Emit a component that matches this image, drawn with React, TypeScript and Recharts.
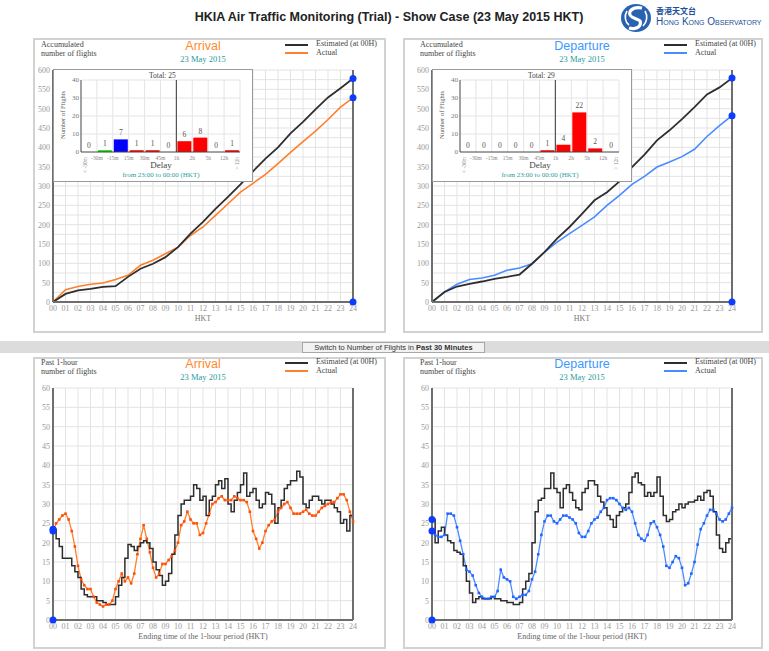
import React from 'react';
import {
  LineChart,
  ComposedChart,
  Line,
  XAxis,
  YAxis,
  CartesianGrid,
  ReferenceDot,
  ReferenceLine,
  Bar,
  Cell,
  LabelList,
} from 'recharts';

// ---- axis ticks / labels ----
const HOUR_TICKS = [0, 1, 2, 3, 4, 5, 6, 7, 8, 9, 10, 11, 12, 13, 14, 15, 16, 17, 18, 19, 20, 21, 22, 23, 24];
const HOUR_LABELS = ['00', '01', '02', '03', '04', '05', '06', '07', '08', '09', '10', '11', '12', '13', '14', '15', '16', '17', '18', '19', '20', '21', '22', '23', '24'];
const ACC_TICKS = [0, 50, 100, 150, 200, 250, 300, 350, 400, 450, 500, 550, 600];
const ACC_GRID = [0, 25, 50, 75, 100, 125, 150, 175, 200, 225, 250, 275, 300, 325, 350, 375, 400, 425, 450, 475, 500, 525, 550, 575, 600];
const HOURLY_TICKS = [0, 5, 10, 15, 20, 25, 30, 35, 40, 45, 50, 55, 60];

// ---- accumulated number of flights, sampled each hour 00..24 ----
const arrivalEstCum = [0, 21, 30, 34, 39, 41, 65, 86, 99, 116, 142, 177, 207, 241, 272, 304, 338, 371, 400, 436, 466, 498, 529, 553, 578];
const arrivalActCum = [0, 32, 40, 46, 49, 58, 69, 95, 108, 125, 142, 172, 194, 224, 254, 284, 307, 330, 358, 387, 415, 442, 472, 504, 528];
const departureEstCum = [0, 26, 40, 47, 53, 60, 65, 71, 99, 129, 164, 194, 228, 263, 284, 312, 349, 381, 418, 444, 473, 504, 537, 555, 579];
const departureActCum = [0, 26, 46, 58, 62, 69, 82, 88, 99, 129, 155, 177, 198, 220, 250, 276, 304, 325, 349, 362, 376, 395, 428, 456, 482];

// ---- past 1-hour number of flights, every 15 minutes 00:00..24:00 ----
const QUARTER_HOURS = Array.from({ length: 97 }, (_, i) => i / 4);
const arrivalEst1h = [
  23.5, 21, 19, 16, 16, 16, 14, 12.5, 11, 8, 6.5, 6, 6, 6, 5, 5,
  4.5, 4, 4, 4, 6, 9, 11, 16, 19.5, 19, 18, 19, 20, 20.5, 20, 18.5,
  15, 13, 11.5, 9, 10, 12, 17, 22, 27, 30, 31, 31, 32, 35, 34, 31,
  32, 27, 31, 32, 35, 36, 34, 36.5, 30, 28, 31, 33, 35, 38, 32, 33,
  34, 31, 29, 30, 33, 32.5, 30, 25, 29, 31, 34, 35, 36, 36, 38.5, 37,
  30, 29, 31, 32, 32, 31, 30, 31, 31, 30, 29, 28, 25, 26, 23, 27,
  28,
];
const arrivalAct1h = [
  23, 25, 26, 27, 27.5, 26, 23, 19, 14, 10.5, 9, 8, 8, 6, 4.5, 4,
  3.5, 4, 4, 5, 8, 10, 12, 10, 11, 9.5, 12, 17, 21, 24.5, 21, 17.5,
  13.5, 11, 12, 14.5, 14.5, 15.5, 16.5, 18, 20, 24.5, 25.5, 28, 26, 25, 25, 22,
  22.5, 25, 27.5, 30, 30.5, 31.5, 32, 31, 31, 31, 32, 31.5, 31, 31, 30.5, 28,
  23, 21, 18.5, 20, 23, 24.5, 25.5, 26, 28, 29, 30, 30.5, 29, 27.5, 27.5, 27.5,
  28, 28.5, 27.5, 27, 27, 28, 29, 29.5, 30, 30.5, 30.5, 31.5, 32.5, 32.5, 31, 28,
  25.5,
];
const departureEst1h = [
  26, 20, 23, 24, 22, 20.5, 20, 18, 17.5, 17, 14, 10, 7, 4.5, 5.5, 6,
  5.5, 5.5, 5.5, 6, 5.5, 5.5, 5, 5, 4.5, 4.5, 4, 4, 4.5, 8, 10, 12,
  20, 28, 31, 31.5, 34, 34, 38, 34, 33, 29, 34, 35, 33, 31, 29, 28.5,
  33, 34, 36, 36, 35, 32, 30.5, 29, 27, 26, 24, 27, 28, 29, 30, 33,
  37, 38, 35.5, 35, 32, 33, 32, 33, 37, 32, 27, 25.5, 26, 28, 28.5, 30,
  29, 30, 30.5, 30.5, 31, 32, 31, 33, 33.5, 32, 28, 22, 18.5, 17.5, 20, 21,
  25.5,
];
const departureAct1h = [
  23, 22, 21.5, 21.5, 22, 27.5, 27.5, 27, 24, 20.5, 17, 13, 12.5, 11.5, 9, 7,
  6, 5.5, 5.5, 6, 6, 7.5, 13, 11, 10.5, 10, 6, 5.5, 6, 6.5, 6.5, 7.5,
  10.5, 12.5, 17, 22, 25.5, 27, 27, 25.5, 25, 26, 27, 27, 26.5, 26, 25, 22.5,
  21.5, 21.5, 23, 25, 26, 26.5, 28, 29, 31, 31.5, 31.5, 31, 30, 29, 28.5, 29,
  28, 25, 22, 21, 20.5, 22, 25, 25.5, 24, 22, 19, 14, 13.5, 15, 16.5, 16,
  13.5, 9, 9.5, 12, 15, 19.5, 23.5, 25, 27, 28.5, 28.5, 27.5, 26, 25.5, 26, 27.5,
  29,
];

// ---- delay distribution (23:00 to 00:00) ----
const DELAY_TICKS = [0, 1, 2, 3, 4, 5, 6, 7, 8, 9, 10];
const DELAY_LABELS = ['< -30m', '-30m', '-15m', '15m', '30m', '45m', '1h', '2h', '5h', '12h', '> 12h'];
const DELAY_COLORS = ['#00dd00', '#00dd00', '#0000ff', '#ff0000', '#ff0000', '#ff0000', '#ff0000', '#ff0000', '#ff0000', '#ff0000'];
const arrivalDelay = [0, 1, 7, 1, 1, 0, 6, 8, 0, 1];
const departureDelay = [0, 0, 0, 0, 0, 1, 4, 22, 2, 0];

const EST_COLOR = '#2e2e2e';
const ORANGE = '#ff7f2a';
const ORANGE_DOT = '#ff4f0a';
const BLUE = '#4a8cff';
const BLUE_DOT = '#2266ff';
const MARK = '#0b3cff';
const TEAL = '#2a9a9a';
const FRAME = { stroke: '#6e6e6e', strokeWidth: 2 };
const SERIF = '"Liberation Serif", "DejaVu Serif", serif';
const SANS = '"Liberation Sans", Arial, sans-serif';

type TxtProps = {
  x: number;
  y: number;
  size: number;
  color?: string;
  anchor?: 'start' | 'middle';
  family?: string;
  bold?: boolean;
  children: React.ReactNode;
};

const Txt = ({ x, y, size, color = '#444', anchor = 'start', family = SERIF, bold, children }: TxtProps) => (
  <div
    style={{
      position: 'absolute',
      left: x,
      top: y - size / 2,
      lineHeight: `${size}px`,
      fontSize: size,
      color,
      fontFamily: family,
      fontWeight: bold ? 'bold' : 'normal',
      whiteSpace: 'nowrap',
      transform: anchor === 'middle' ? 'translateX(-50%)' : undefined,
    }}
  >
    {children}
  </div>
);

const Panel = ({ left, top, width, height }: { left: number; top: number; width: number; height: number }) => (
  <div
    style={{
      position: 'absolute',
      left,
      top,
      width,
      height,
      border: '2px solid #d2d2d2',
      boxSizing: 'border-box',
    }}
  />
);

type HeaderProps = {
  plotLeft: number;
  plotTop: number;
  line1: string;
  line2: string;
  title: string;
  titleColor: string;
  actualColor: string;
};

const Header = ({ plotLeft, plotTop, line1, line2, title, titleColor, actualColor }: HeaderProps) => (
  <>
    <Txt x={plotLeft - 12} y={plotTop - 25.5} size={8}>{line1}</Txt>
    <Txt x={plotLeft - 12} y={plotTop - 16} size={8}>{line2}</Txt>
    <Txt x={plotLeft + 150} y={plotTop - 24} size={12.5} color={titleColor} family={SANS} anchor="middle">{title}</Txt>
    <Txt x={plotLeft + 150} y={plotTop - 10.5} size={8.5} color={TEAL} anchor="middle">23 May 2015</Txt>
    <div style={{ position: 'absolute', left: plotLeft + 232, top: plotTop - 26.5, width: 23, height: 2, background: EST_COLOR }} />
    <div style={{ position: 'absolute', left: plotLeft + 232, top: plotTop - 18.5, width: 23, height: 2, background: actualColor }} />
    <Txt x={plotLeft + 263} y={plotTop - 26} size={8}>Estimated (at 00H)</Txt>
    <Txt x={plotLeft + 263} y={plotTop - 17.5} size={8}>Actual</Txt>
  </>
);

type ChartProps = {
  left: number;
  top: number;
  est: number[];
  act: number[];
  color: string;
  dotColor?: string;
};

const tickStyle = { fontSize: 8, fill: '#999', fontFamily: SERIF };

const AccumChart = ({ left, top, est, act, color }: ChartProps) => {
  const data = HOUR_TICKS.map((t, i) => ({ t, est: est[i], act: act[i] }));
  return (
    <div style={{ position: 'absolute', left, top }}>
      <LineChart width={362} height={272} data={data} margin={{ top: 10, right: 0, bottom: 0, left: 0 }}>
        <CartesianGrid yAxisId="l" stroke="#e3e3e3" horizontalValues={ACC_GRID} verticalValues={HOUR_TICKS} />
        <XAxis
          dataKey="t"
          type="number"
          domain={[0, 24]}
          ticks={HOUR_TICKS}
          interval={0}
          tickFormatter={(v: number) => HOUR_LABELS[v]}
          tick={tickStyle}
          tickLine={false}
          tickSize={0}
          tickMargin={3}
          axisLine={FRAME}
          height={30}
          label={{ value: 'HKT', position: 'insideBottom', offset: 11, fontSize: 8, fill: '#777' }}
        />
        <XAxis xAxisId="top" orientation="top" type="number" domain={[0, 24]} tick={false} tickLine={false} height={0} axisLine={FRAME} />
        <YAxis yAxisId="l" orientation="left" width={31} domain={[0, 600]} ticks={ACC_TICKS} interval={0} tick={tickStyle} tickLine={false} tickSize={0} tickMargin={3} axisLine={FRAME} />
        <YAxis yAxisId="r" orientation="right" width={31} domain={[0, 600]} ticks={ACC_TICKS} interval={0} tick={tickStyle} tickLine={false} tickSize={0} tickMargin={4} axisLine={FRAME} />
        <Line yAxisId="l" type="linear" dataKey="act" stroke={color} strokeWidth={1.6} dot={false} isAnimationActive={false} />
        <Line yAxisId="l" type="linear" dataKey="est" stroke={EST_COLOR} strokeWidth={1.8} dot={false} isAnimationActive={false} />
        <ReferenceDot yAxisId="l" x={24} y={est[24]} r={3.5} fill={MARK} stroke="none" />
        <ReferenceDot yAxisId="l" x={24} y={act[24]} r={3.5} fill={MARK} stroke="none" />
        <ReferenceDot yAxisId="l" x={24} y={0} r={3.5} fill={MARK} stroke="none" />
      </LineChart>
    </div>
  );
};

const HourlyChart = ({ left, top, est, act, color, dotColor }: ChartProps) => {
  const data = QUARTER_HOURS.map((t, i) => ({ t, est: est[i], act: act[i] }));
  const squareDot = (p: any) => (
    <rect key={`d${p.index}`} x={p.cx - 1.3} y={p.cy - 1.3} width={2.6} height={2.6} fill={dotColor} />
  );
  return (
    <div style={{ position: 'absolute', left, top }}>
      <LineChart width={362} height={272} data={data} margin={{ top: 10, right: 0, bottom: 0, left: 0 }}>
        <CartesianGrid yAxisId="l" stroke="#e3e3e3" horizontalValues={HOURLY_TICKS} verticalValues={HOUR_TICKS} />
        <XAxis
          dataKey="t"
          type="number"
          domain={[0, 24]}
          ticks={HOUR_TICKS}
          interval={0}
          tickFormatter={(v: number) => HOUR_LABELS[v]}
          tick={tickStyle}
          tickLine={false}
          tickSize={0}
          tickMargin={3}
          axisLine={FRAME}
          height={30}
          label={{ value: 'Ending time of the 1-hour period (HKT)', position: 'insideBottom', offset: 11, fontSize: 8, fill: '#666' }}
        />
        <XAxis xAxisId="top" orientation="top" type="number" domain={[0, 24]} tick={false} tickLine={false} height={0} axisLine={FRAME} />
        <YAxis yAxisId="l" orientation="left" width={31} domain={[0, 60]} ticks={HOURLY_TICKS} interval={0} tick={tickStyle} tickLine={false} tickSize={0} tickMargin={3} axisLine={FRAME} />
        <YAxis yAxisId="r" orientation="right" width={31} domain={[0, 60]} ticks={HOURLY_TICKS} interval={0} tick={tickStyle} tickLine={false} tickSize={0} tickMargin={4} axisLine={FRAME} />
        <Line yAxisId="l" type="linear" dataKey="act" stroke={color} strokeWidth={1.3} dot={squareDot} isAnimationActive={false} />
        <Line yAxisId="l" type="stepAfter" dataKey="est" stroke={EST_COLOR} strokeWidth={1.5} dot={false} isAnimationActive={false} />
        <ReferenceDot yAxisId="l" x={0} y={est[0]} r={3.5} fill={MARK} stroke="none" />
        <ReferenceDot yAxisId="l" x={0} y={act[0]} r={3.5} fill={MARK} stroke="none" />
        <ReferenceDot yAxisId="l" x={0} y={0} r={3.5} fill={MARK} stroke="none" />
      </LineChart>
    </div>
  );
};

const DelayTick = (props: any) => {
  const { x, y, payload } = props;
  const v = payload.value as number;
  const label = DELAY_LABELS[v];
  if (v === 0 || v === 10) {
    const tx = x + (v === 0 ? 4 : -3.5);
    const ty = y + 5;
    return (
      <text x={tx} y={ty} transform={`rotate(-90 ${tx} ${ty})`} textAnchor="end" dominantBaseline="central" fontSize={5.5} fill="#888">
        {label}
      </text>
    );
  }
  return (
    <text x={x} y={y + 8} textAnchor="middle" fontSize={5.5} fill="#888">
      {label}
    </text>
  );
};

const DelayInset = ({ left, counts }: { left: number; counts: number[] }) => {
  const data = counts.map((n, i) => ({ pos: i + 0.5, n }));
  const total = counts.reduce((a, b) => a + b, 0);
  return (
    <div
      style={{
        position: 'absolute',
        left,
        top: 69,
        width: 200,
        height: 113,
        background: '#fff',
        border: '1px solid #9a9a9a',
        boxSizing: 'border-box',
      }}
    >
      <ComposedChart width={198} height={111} data={data} margin={{ top: 10, right: 12, bottom: 0, left: 0 }}>
        <CartesianGrid stroke="#e4e4e4" horizontalValues={[10, 20, 30, 40]} verticalValues={[1, 2, 3, 4, 5, 6, 7, 8, 9, 10]} />
        <XAxis
          dataKey="pos"
          type="number"
          domain={[0, 10]}
          ticks={DELAY_TICKS}
          interval={0}
          tick={<DelayTick />}
          tickLine={false}
          tickSize={0}
          tickMargin={0}
          axisLine={{ stroke: '#444' }}
          height={29}
        />
        <YAxis
          domain={[0, 40]}
          ticks={[0, 10, 20, 30, 40]}
          interval={0}
          width={27}
          tick={{ fontSize: 7, fill: '#777' }}
          tickLine={false}
          tickSize={0}
          tickMargin={2}
          axisLine={{ stroke: '#444' }}
        />
        <ReferenceLine x={6} stroke="#555" strokeWidth={1.2} />
        <Bar dataKey="n" barSize={14} isAnimationActive={false}>
          {data.map((d, i) => (
            <Cell key={`c${i}`} fill={DELAY_COLORS[i]} />
          ))}
        </Bar>
        <Line dataKey="n" stroke="none" dot={false} activeDot={false} isAnimationActive={false}>
          <LabelList dataKey="n" position="top" offset={4} fontSize={7.5} fill="#555" />
        </Line>
      </ComposedChart>
      <Txt x={95} y={5.5} size={7.5} color="#444">{`Total: ${total}`}</Txt>
      <div
        style={{
          position: 'absolute',
          left: 7.7,
          top: 45,
          fontSize: 6.5,
          lineHeight: '7px',
          color: '#555',
          whiteSpace: 'nowrap',
          transform: 'translate(-50%, -50%) rotate(-90deg)',
        }}
      >
        Number of Flights
      </div>
      <Txt x={107} y={95.7} size={9} color="#444" anchor="middle">Delay</Txt>
      <Txt x={107} y={105} size={7} color={TEAL} anchor="middle">from 23:00 to 00:00 (HKT)</Txt>
    </div>
  );
};

const Logo = () => (
  <>
    <svg style={{ position: 'absolute', left: 620, top: 3 }} width={32} height={30} viewBox="0 0 32 30">
      <ellipse cx={16} cy={15} rx={15} ry={14} fill="#2a62b2" />
      <path d="M22 5 C12 3 6 10 12 14 C17 17 22 16 20 22 C18 26 12 26 9 25" stroke="#fff" strokeWidth={3.2} fill="none" />
      <path d="M7 8 C4 13 5 19 9 22" stroke="#fff" strokeWidth={1.6} fill="none" />
      <path d="M25 8 C28 13 27 19 23 23" stroke="#fff" strokeWidth={1.6} fill="none" />
    </svg>
    <Txt x={656} y={10.5} size={8} color="#1d4f96" family={'"Noto Sans CJK TC", sans-serif'} bold>香港天文台</Txt>
    <div
      style={{
        position: 'absolute',
        left: 656,
        top: 16,
        fontSize: 10,
        lineHeight: '12px',
        color: '#1d4f96',
        fontFamily: SANS,
        fontVariant: 'small-caps',
        whiteSpace: 'nowrap',
      }}
    >
      Hong Kong Observatory
    </div>
  </>
);

export default function App() {
  return (
    <div
      style={{
        position: 'absolute',
        left: 0,
        top: 0,
        width: 769,
        height: 651,
        overflow: 'hidden',
        background: '#fff',
        fontFamily: SERIF,
      }}
    >
      <Txt x={389} y={17} size={12.5} color="#222" family={SANS} bold anchor="middle">
        HKIA Air Traffic Monitoring (Trial) - Show Case (23 May 2015 HKT)
      </Txt>
      <Logo />

      <Panel left={33} top={38} width={353} height={295} />
      <Panel left={403} top={38} width={360} height={295} />
      <Panel left={33} top={357} width={353} height={292} />
      <Panel left={403} top={357} width={360} height={292} />

      <div style={{ position: 'absolute', left: 0, top: 341, width: 769, height: 12, background: '#dcdcdc' }} />
      <div
        style={{
          position: 'absolute',
          left: 302,
          top: 342,
          width: 183,
          height: 11,
          boxSizing: 'border-box',
          background: '#f2f2f2',
          border: '1px solid #a8a8a8',
          fontFamily: SANS,
          fontSize: 7.5,
          lineHeight: '9px',
          color: '#333',
          textAlign: 'center',
          whiteSpace: 'nowrap',
        }}
      >
        Switch to Number of Flights in <b>Past 30 Minutes</b>
      </div>

      <Header plotLeft={53} plotTop={70} line1="Accumulated" line2="number of flights" title="Arrival" titleColor="#ff8a2e" actualColor={ORANGE} />
      <Header plotLeft={432} plotTop={70} line1="Accumulated" line2="number of flights" title="Departure" titleColor="#3d98ff" actualColor={BLUE} />
      <Header plotLeft={53} plotTop={388} line1="Past 1-hour" line2="number of flights" title="Arrival" titleColor="#ff8a2e" actualColor={ORANGE} />
      <Header plotLeft={432} plotTop={388} line1="Past 1-hour" line2="number of flights" title="Departure" titleColor="#3d98ff" actualColor={BLUE} />

      <AccumChart left={22} top={60} est={arrivalEstCum} act={arrivalActCum} color={ORANGE} />
      <AccumChart left={401} top={60} est={departureEstCum} act={departureActCum} color={BLUE} />
      <HourlyChart left={22} top={378} est={arrivalEst1h} act={arrivalAct1h} color={ORANGE} dotColor={ORANGE_DOT} />
      <HourlyChart left={401} top={378} est={departureEst1h} act={departureAct1h} color={BLUE} dotColor={BLUE_DOT} />

      <DelayInset left={53} counts={arrivalDelay} />
      <DelayInset left={432} counts={departureDelay} />
    </div>
  );
}
